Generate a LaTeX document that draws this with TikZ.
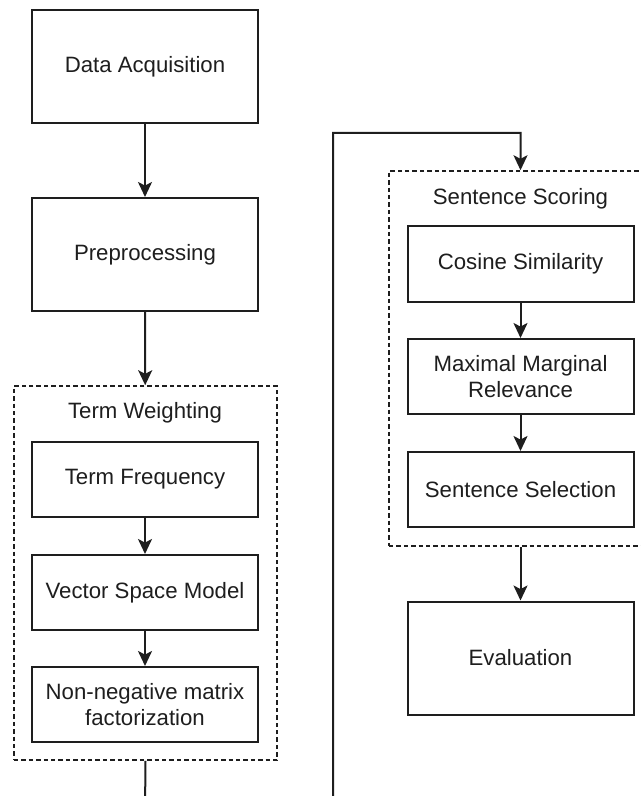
\documentclass[tikz,border=0pt]{standalone}
\usepackage{fontspec}
\setmainfont{Liberation Sans}
\usetikzlibrary{arrows.meta}
\definecolor{ink}{HTML}{1E1E1E}
\tikzset{
  stepbox/.style={draw=ink, line width=1pt, fill=white, inner sep=0pt,
    minimum width=113pt, align=center, text=ink,
    font=\fontsize{11.1pt}{12.6pt}\selectfont},
  tall/.style={minimum height=56.5pt},
  short/.style={minimum height=37.5pt},
  group/.style={draw=ink, line width=0.75pt, dash pattern=on 2.2pt off 1.5pt,
    inner sep=0pt, minimum width=131.5pt},
  grouplabel/.style={text=ink, font=\fontsize{11.1pt}{12.6pt}\selectfont},
  flow/.style={draw=ink, line width=1pt,
    -{Stealth[length=7.5pt,width=7pt,inset=1.8pt]}},
}
\begin{document}
\begin{tikzpicture}[x=0.5pt, y=-0.5pt]
\useasboundingbox (0,0) rectangle (641,796);

% left column
\node[stepbox, tall] (acq) at (145,66.5) {Data Acquisition};
\node[stepbox, tall] (pre) at (145,254.5) {Preprocessing};

\node[group, minimum height=187pt] (tw) at (145.5,573) {};
\node[grouplabel] (twl) at (145,413) {Term Weighting};
\node[stepbox, short] (tf)  at (145,479.5) {Term Frequency};
\node[stepbox, short] (vsm) at (145,592.5) {Vector Space Model};
\node[stepbox, short] (nmf) at (145,704.5) {Non-negative matrix\\factorization};

% right column
\node[group, minimum height=187.5pt] (ss) at (520.5,358.5) {};
\node[grouplabel] (ssl) at (520.5,199) {Sentence Scoring};
\node[stepbox, short] (cos) at (520.5,264) {Cosine Similarity};
\node[stepbox, short] (mmr) at (520.5,376.5) {Maximal Marginal\\Relevance};
\node[stepbox, short] (sel) at (520.5,489.5) {Sentence Selection};
\node[stepbox, tall] (eva) at (520.5,658) {Evaluation};

% connectors
\draw[flow] (acq) -- (pre);
\draw[flow] (pre) -- (tw);
\draw[flow] (tf) -- (vsm);
\draw[flow] (vsm) -- (nmf);
\draw[flow] (cos) -- (mmr);
\draw[flow] (mmr) -- (sel);
\draw[flow] (ss) -- (eva);

% route from term weighting over to sentence scoring
\coordinate (down) at (145,812);
\coordinate (across) at (333,812);
\coordinate (up) at (333,133);
\coordinate (over) at (520.5,133);
\draw[flow] (tw.south) -- (down) -- (across) -- (up) -- (over) -- (ss.north);
\end{tikzpicture}
\end{document}
